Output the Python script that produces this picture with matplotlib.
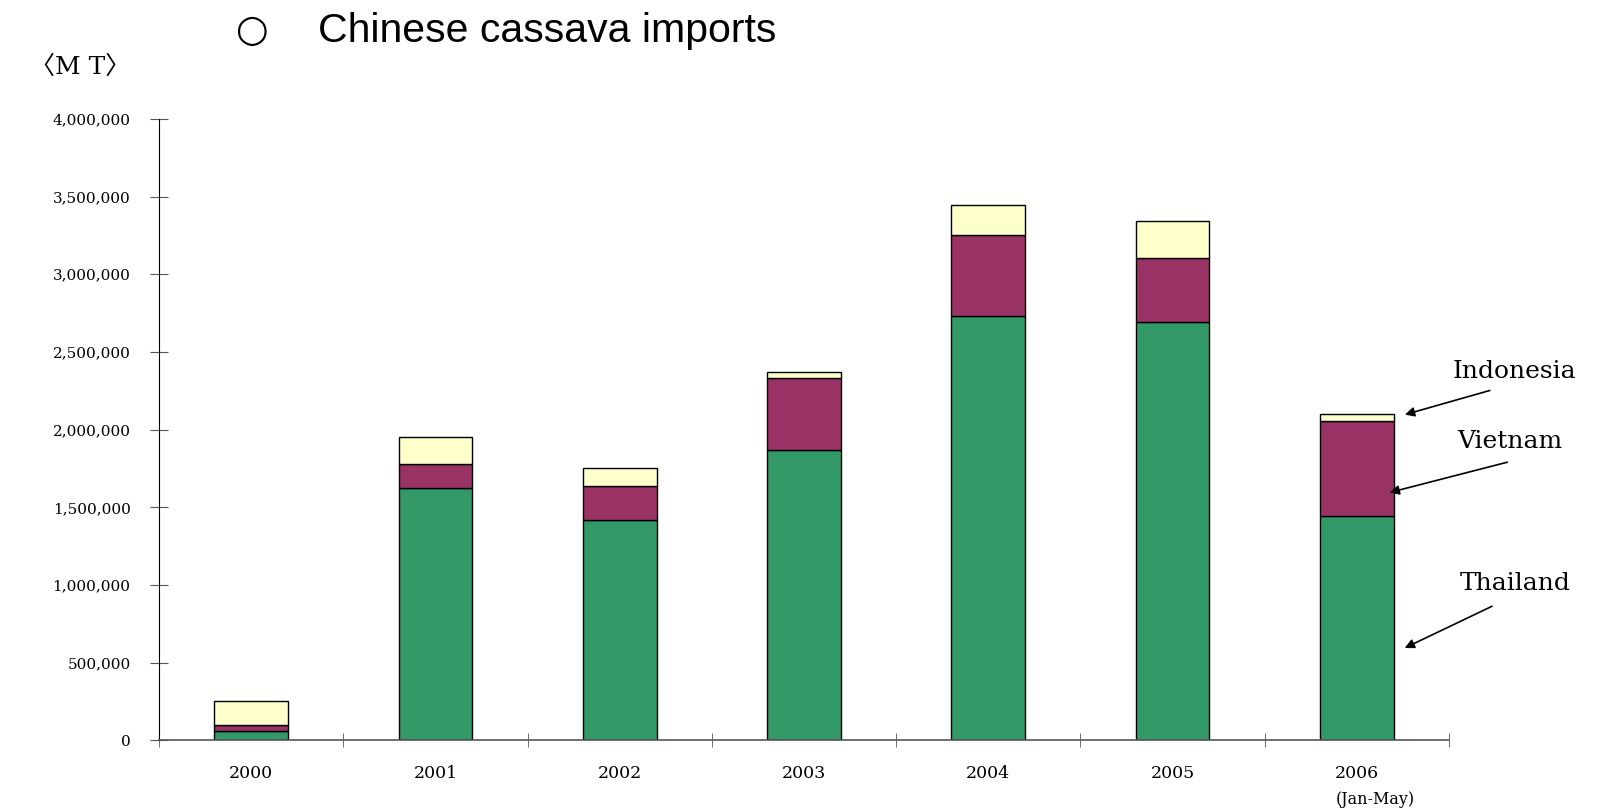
import matplotlib

matplotlib.use("Agg")
import matplotlib.pyplot as plt
import numpy as np
from matplotlib.ticker import FuncFormatter, FixedLocator

# Chinese cassava imports by origin (metric tons)
years = ["2000", "2001", "2002", "2003", "2004", "2005", "2006"]
thailand = [60000, 1624000, 1419000, 1868000, 2733000, 2693000, 1446000]
vietnam = [36000, 158000, 218000, 462000, 521000, 409000, 607000]
indonesia = [156000, 172000, 119000, 40000, 192000, 238000, 46000]

colors = {"Thailand": "#339966", "Vietnam": "#993366", "Indonesia": "#FFFFCC"}

plt.rcParams["font.family"] = ["DejaVu Serif", "Noto Sans CJK JP"]

fig = plt.figure(figsize=(16.08, 8.09), dpi=100)
ax = fig.add_axes([0.0989, 0.0848, 0.8022, 0.7682])

x = np.arange(len(years))
w = 0.4
th = np.array(thailand)
vn = np.array(vietnam)
ind = np.array(indonesia)
ax.bar(x, th, width=w, color=colors["Thailand"], edgecolor="black", linewidth=1)
ax.bar(x, vn, width=w, bottom=th, color=colors["Vietnam"], edgecolor="black", linewidth=1)
ax.bar(x, ind, width=w, bottom=th + vn, color=colors["Indonesia"], edgecolor="black", linewidth=1)

ax.set_xlim(-0.5, len(years) - 0.5)
ax.set_ylim(0, 4000000)

for s in ["top", "right"]:
    ax.spines[s].set_visible(False)
ax.spines["left"].set_color("black")
ax.spines["bottom"].set_color("#555555")
ax.spines["bottom"].set_linewidth(1.2)

ax.yaxis.set_major_locator(FixedLocator(np.arange(0, 4000001, 500000)))
ax.yaxis.set_major_formatter(FuncFormatter(lambda v, p: f"{int(v):,}"))
ax.tick_params(axis="y", direction="inout", length=13, color="#555555",
               labelsize=11, pad=14)

ax.set_xticks(x)
ax.set_xticklabels(years)
ax.set_xticks(np.arange(-0.5, len(years)), minor=True)
ax.tick_params(axis="x", which="major", length=0, labelsize=12.5, pad=18)
ax.tick_params(axis="x", which="minor", direction="inout", length=10, color="#555555")

ax.text(6.1, -380000, "(Jan-May)", ha="center", va="center", fontsize=11.5)

# Country annotations on the last bar
arrow = dict(arrowstyle="-|>", color="black", lw=1.2, mutation_scale=14)
ax.annotate("", xy=(6.246, 2092000), xytext=(6.736, 2257000), arrowprops=arrow)
ax.text(6.853, 2376000, "Indonesia", ha="center", va="center", fontsize=18)
ax.annotate("", xy=(6.163, 1591000), xytext=(6.831, 1795000), arrowprops=arrow)
ax.text(6.831, 1927000, "Vietnam", ha="center", va="center", fontsize=18)
ax.annotate("", xy=(6.246, 587000), xytext=(6.747, 871000), arrowprops=arrow)
ax.text(6.858, 1010000, "Thailand", ha="center", va="center", fontsize=18)

# Title and unit
fig.text(252 / 1608, 1 - 31 / 809, "○", ha="center", va="center", fontsize=27,
         family="DejaVu Sans")
fig.text(318 / 1608, 1 - 31 / 809, "Chinese cassava imports", ha="left", va="center",
         fontsize=29.5, family="Liberation Sans")
fig.text(80 / 1608, 1 - 67 / 809, "〈M T〉", ha="center", va="center", fontsize=18)

fig.savefig("out.png", dpi=100)
plt.close(fig)
